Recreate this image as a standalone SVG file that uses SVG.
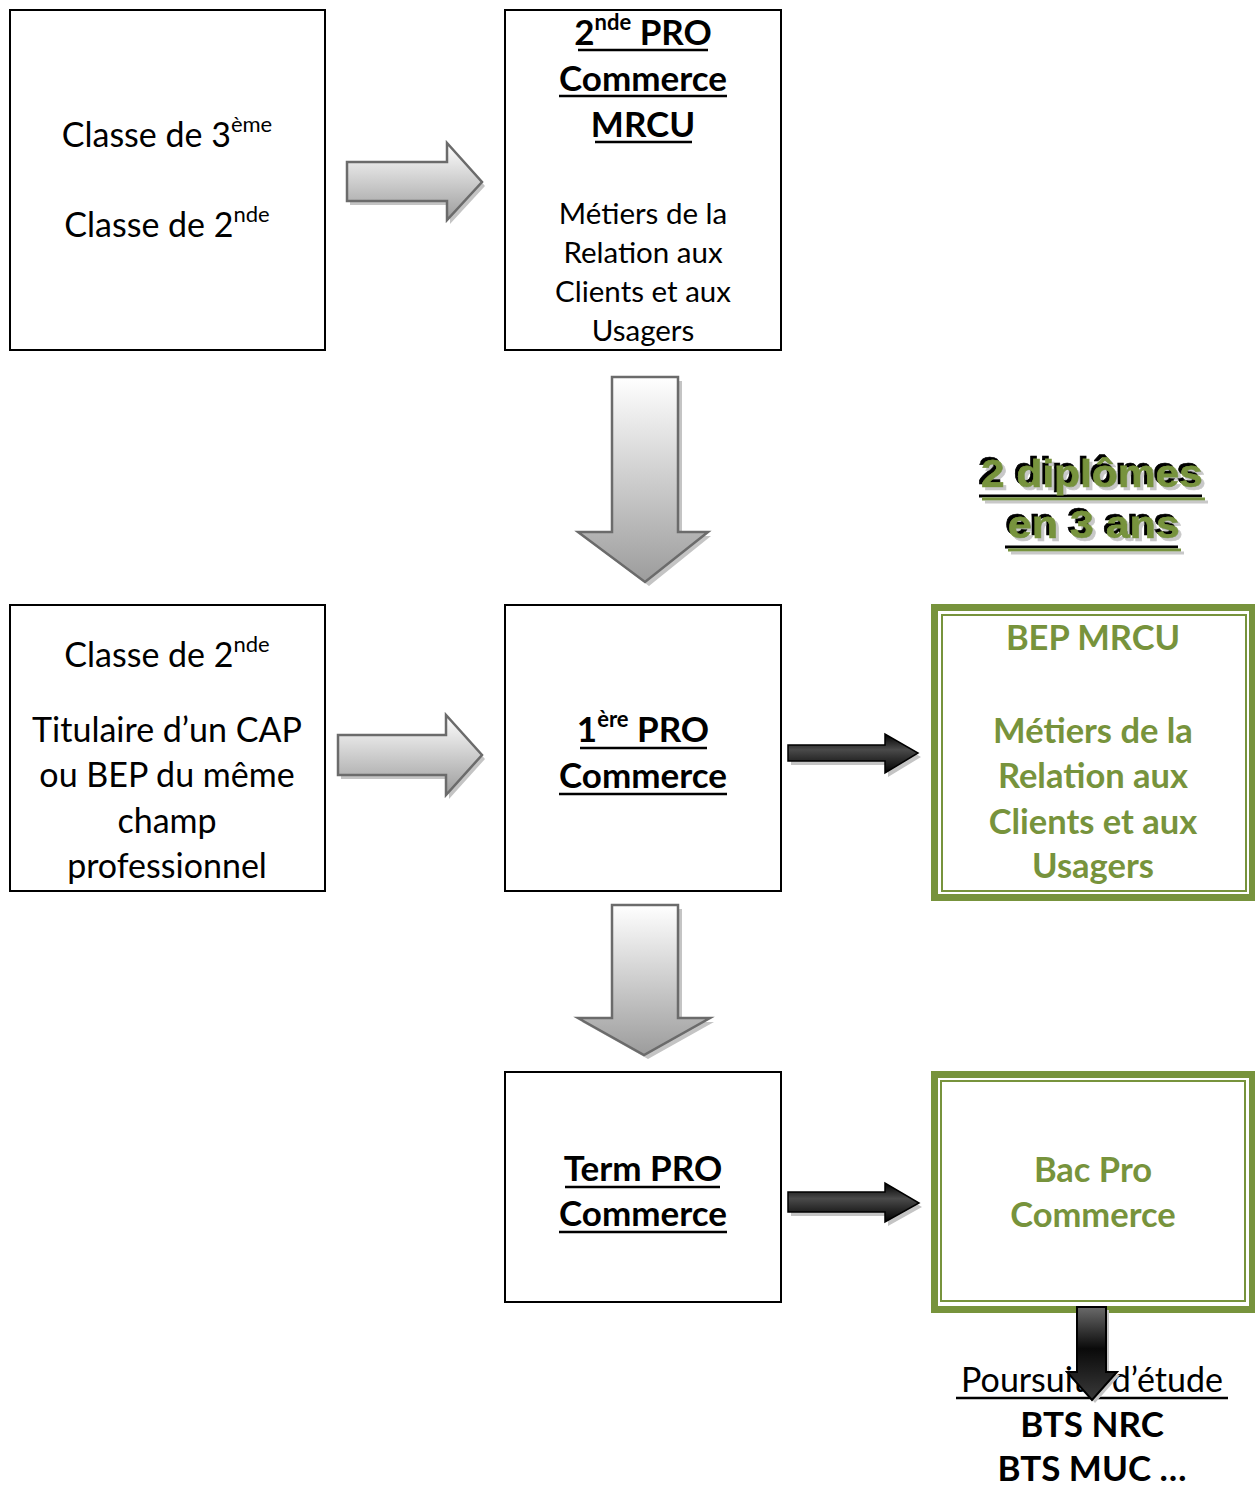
<svg xmlns="http://www.w3.org/2000/svg" width="1255" height="1487" viewBox="0 0 1255 1487">
<defs>
<linearGradient id="gGrayV" x1="0" y1="0" x2="0" y2="1">
<stop offset="0" stop-color="#ffffff"/><stop offset="1" stop-color="#9c9c9c"/>
</linearGradient>
<linearGradient id="gBlackH" x1="0" y1="0" x2="0" y2="1">
<stop offset="0" stop-color="#000"/><stop offset="0.4" stop-color="#4a4a4a"/><stop offset="1" stop-color="#000"/>
</linearGradient>
<linearGradient id="gBlackV" x1="0" y1="0" x2="0" y2="1">
<stop offset="0" stop-color="#6a6a6a"/><stop offset="0.45" stop-color="#0a0a0a"/><stop offset="1" stop-color="#3a3a3a"/>
</linearGradient>
<filter id="fShadow" x="-10%" y="-30%" width="120%" height="160%">
<feFlood flood-color="#000" result="k"/>
<feComposite in="k" in2="SourceAlpha" operator="in" result="ks"/>
<feOffset in="ks" dx="-3" dy="-3" result="ko"/>
<feFlood flood-color="#c8c8c8" result="g"/>
<feComposite in="g" in2="SourceAlpha" operator="in" result="gs"/>
<feOffset in="gs" dx="3" dy="3" result="go"/>
<feMerge><feMergeNode in="go"/><feMergeNode in="ko"/><feMergeNode in="SourceGraphic"/></feMerge>
</filter>
</defs>
<style>
.box{fill:#fff;stroke:#000;stroke-width:2}
.gout{fill:#fff;stroke:#77933C;stroke-width:7}
.gin{fill:none;stroke:#77933C;stroke-width:2}
text{font-family:Lato,"Open Sans","Liberation Sans",sans-serif;text-anchor:middle}
.r{font-size:34px;fill:#000}
.s{font-size:29.5px;fill:#000}
.b{font-size:35px;font-weight:bold;fill:#000}
.gb{font-size:34.5px;font-weight:bold;fill:#77933C}
.ul{stroke:#000;stroke-width:2.5}
.ga{fill:url(#gGrayV);stroke:#6b6b6b;stroke-width:2.5;stroke-linejoin:miter}
.ka{fill:url(#gBlackH);stroke:#000;stroke-width:1.5}
.kv{fill:url(#gBlackV);stroke:#000;stroke-width:2}
.sh{fill:#c4c4c4}
.t3{font-family:"Liberation Sans",Arial,sans-serif;font-size:38px;font-weight:bold;fill:#77933C;stroke:#77933C;stroke-width:0.6}
</style>

<g id="connectors">
<g id="arrow-3e-2pro">
<polygon class="sh" points="350,166 450,166 450,147 485,186 450,224 450,205 350,205"/>
<polygon class="ga" points="347,162 447,162 447,143 482,182 447,220 447,201 347,201"/>
</g>
<g id="arrow-cap-1pro">
<polygon class="sh" points="341,739 449,739 449,719 485,759 449,799 449,779 341,779"/>
<polygon class="ga" points="338,735 446,735 446,715 482,755 446,795 446,775 338,775"/>
</g>
<g id="arrow-2pro-1pro">
<polygon class="sh" points="616,381 682,381 682,536 711,536 649,586 582,536 616,536"/>
<polygon class="ga" points="612,377 678,377 678,532 708,532 645,582 578,532 612,532"/>
</g>
<g id="arrow-1pro-term">
<polygon class="sh" points="616,909 682,909 682,1022 714,1022 648,1059 582,1022 616,1022"/>
<polygon class="ga" points="612,905 678,905 678,1018 710,1018 644,1055 578,1018 612,1018"/>
</g>
<g id="arrow-1pro-bep">
<polygon class="sh" points="791,750 888,750 888,738 921,757 888,777 888,765 791,765"/>
<polygon class="ka" points="788,745 885,745 885,734 918,753 885,773 885,761 788,761"/>
</g>
<g id="arrow-term-bac">
<polygon class="sh" points="791,1196 888,1196 888,1187 922,1207 888,1226 888,1216 791,1216"/>
<polygon class="ka" points="788,1192 885,1192 885,1183 919,1203 885,1222 885,1212 788,1212"/>
</g>
</g>

<g id="node-3eme-2nde">
<rect class="box" x="10" y="10" width="315" height="340"/>
<text class="r" x="167" y="147">Classe de 3<tspan dy="-15" font-size="22">ème</tspan></text>
<text class="r" x="167" y="237">Classe de 2<tspan dy="-15" font-size="22">nde</tspan></text>
</g>

<g id="node-2nde-pro">
<rect class="box" x="505" y="10" width="276" height="340"/>
<text class="b" x="643" y="45">2<tspan dy="-15" font-size="22">nde</tspan><tspan dy="15"> PRO</tspan></text>
<line class="ul" x1="578" y1="50" x2="708" y2="50"/>
<text class="b" x="643" y="91">Commerce</text>
<line class="ul" x1="559" y1="96" x2="727" y2="96"/>
<text class="b" x="643" y="137">MRCU</text>
<line class="ul" x1="595" y1="142" x2="692" y2="142"/>
<text class="s" x="643" y="224">Métiers de la</text>
<text class="s" x="643" y="263">Relation aux</text>
<text class="s" x="643" y="302">Clients et aux</text>
<text class="s" x="643" y="341">Usagers</text>
</g>

<g id="node-2nde-cap">
<rect class="box" x="10" y="605" width="315" height="286"/>
<text class="r" x="167" y="667">Classe de 2<tspan dy="-15" font-size="22">nde</tspan></text>
<text class="r" x="167" y="742">Titulaire d’un CAP</text>
<text class="r" x="167" y="787">ou BEP du même</text>
<text class="r" x="167" y="833">champ</text>
<text class="r" x="167" y="878">professionnel</text>
</g>

<g id="node-1ere-pro">
<rect class="box" x="505" y="605" width="276" height="286"/>
<text class="b" x="643" y="742">1<tspan dy="-15" font-size="22">ère</tspan><tspan dy="15"> PRO</tspan></text>
<line class="ul" x1="580" y1="748" x2="707" y2="748"/>
<text class="b" x="643" y="788">Commerce</text>
<line class="ul" x1="559" y1="794" x2="727" y2="794"/>
</g>

<g id="node-term-pro">
<rect class="box" x="505" y="1072" width="276" height="230"/>
<text class="b" x="643" y="1181">Term PRO</text>
<line class="ul" x1="565" y1="1187" x2="720" y2="1187"/>
<text class="b" x="643" y="1226">Commerce</text>
<line class="ul" x1="559" y1="1232" x2="727" y2="1232"/>
</g>

<g id="node-bep">
<rect class="gout" x="934.5" y="607.5" width="318" height="290"/>
<rect class="gin" x="942" y="615" width="304" height="276"/>
<text class="gb" x="1093" y="650">BEP MRCU</text>
<text class="gb" x="1093" y="743">Métiers de la</text>
<text class="gb" x="1093" y="788">Relation aux</text>
<text class="gb" x="1093" y="834">Clients et aux</text>
<text class="gb" x="1093" y="878">Usagers</text>
</g>

<g id="node-bac">
<rect class="gout" x="934.5" y="1074.5" width="318" height="235"/>
<rect class="gin" x="941" y="1081" width="304" height="220"/>
<text class="gb" x="1093" y="1182">Bac Pro</text>
<text class="gb" x="1093" y="1227">Commerce</text>
</g>

<g id="title-2-diplomes">
<g filter="url(#fShadow)">
<text class="t3" x="1092" y="487" textLength="222" lengthAdjust="spacingAndGlyphs">2 diplômes</text>
<line x1="982" y1="499" x2="1205" y2="499" stroke="#77933C" stroke-width="3"/>
<text class="t3" x="1094" y="538" textLength="172" lengthAdjust="spacingAndGlyphs">en 3 ans</text>
<line x1="1008" y1="550" x2="1181" y2="550" stroke="#77933C" stroke-width="3"/>
</g>
</g>

<g id="node-poursuite">
<text class="r" x="1092" y="1392">Poursuite d’étude</text>
<line class="ul" x1="956" y1="1398" x2="1228" y2="1398"/>
<text class="b" x="1092" y="1437">BTS NRC</text>
<text class="b" x="1092" y="1481">BTS MUC …</text>
</g>

<g id="connector-bac-poursuite">
<polygon class="sh" points="1080,1310 1109,1310 1109,1375 1120,1375 1095,1403 1070,1375 1080,1375"/>
<polygon class="kv" points="1077,1307 1106,1307 1106,1372 1117,1372 1092,1400 1067,1372 1077,1372"/>
</g>
</svg>
